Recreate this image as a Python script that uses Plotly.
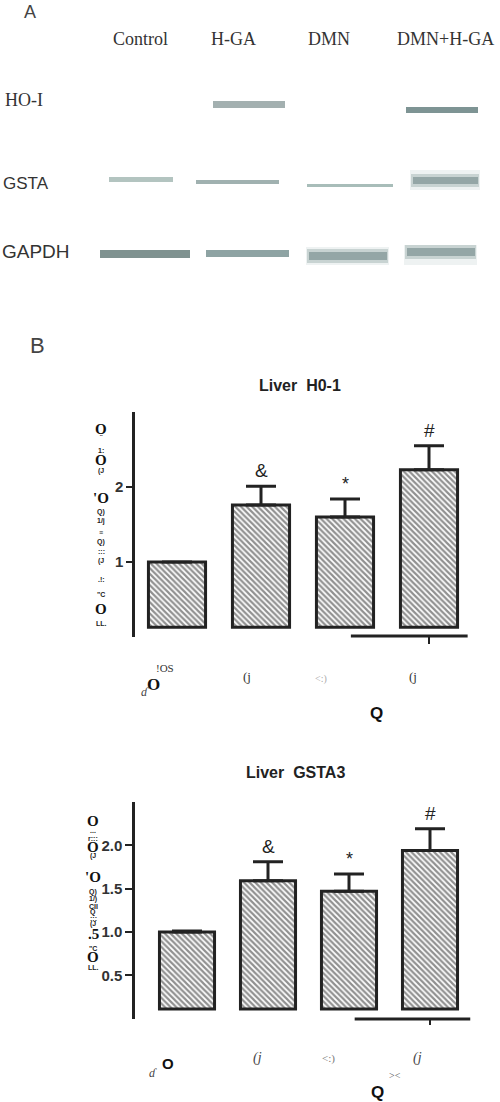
import plotly.graph_objects as go

W, H = 500, 1102

# ---- panel A: blot lanes / rows
lanes = ["Control", "H-GA", "DMN", "DMN+H-GA"]
lane_x = [140, 233, 329, 445]
rows = ["HO-I", "GSTA", "GAPDH"]

# flat bands: row, x0, x1, y0, y1, colour
flat_bands = [
    ("HO-I", 213, 285, 101, 108, "#a3b0b0"),
    ("HO-I", 406, 478, 107, 113, "#7e9494"),
    ("GSTA", 109, 173, 177, 182, "#b3c4c0"),
    ("GSTA", 196, 279, 180, 184, "#a0b1b0"),
    ("GSTA", 307, 393, 184, 187, "#a8bdb9"),
    ("GAPDH", 100, 190, 250, 258, "#7f9290"),
    ("GAPDH", 206, 289, 250, 257, "#8ea3a3"),
]
# scanned bands: x0, x1, y0, y1, core y0, core y1
scan_bands = [
    (410, 480, 170, 190, 177, 184),
    (306, 389, 247, 265, 252, 260),
    (404, 477, 245, 265, 248, 256),
]

# ---- panel B: fold change
groups = [0, 1, 2, 3]
ho1_mean = [1.00, 1.76, 1.60, 2.23]
ho1_sem = [0.0, 0.25, 0.24, 0.32]
gsta3_mean = [1.00, 1.59, 1.47, 1.94]
gsta3_sem = [0.01, 0.22, 0.20, 0.25]
sig_marks = ["", "&", "*", "#"]


def px(x):
    return x / W


def py(y):
    return 1 - y / H


fig = go.Figure()
shapes = []
ann = []

# blot bands
for r, x0, x1, y0, y1, c in flat_bands:
    shapes.append(dict(type="rect", xref="paper", yref="paper", x0=px(x0), x1=px(x1),
                       y0=py(y1), y1=py(y0), fillcolor=c, line=dict(width=0)))
for x0, x1, y0, y1, c0, c1 in scan_bands:
    shapes.append(dict(type="rect", xref="paper", yref="paper", x0=px(x0), x1=px(x1),
                       y0=py(y1), y1=py(y0), fillcolor="#eef2f2", line=dict(width=0)))
    shapes.append(dict(type="rect", xref="paper", yref="paper", x0=px(x0 + 1), x1=px(x1 - 1),
                       y0=py(c1 + 3), y1=py(c0 - 3), fillcolor="#c8d3d2", line=dict(width=0)))
    shapes.append(dict(type="rect", xref="paper", yref="paper", x0=px(x0 + 3), x1=px(x1 - 2),
                       y0=py(c1), y1=py(c0), fillcolor="#94a6a6", line=dict(width=0)))

serif = "Liberation Serif"
sans = "Liberation Sans"

ann.append(dict(text="A", x=px(30), y=py(12), font=dict(family=sans, size=18, color="#444")))
for name, lx in zip(lanes, lane_x):
    ann.append(dict(text=name, x=px(lx), y=py(39), font=dict(family=serif, size=18, color="#333")))
ann.append(dict(text="HO-I", x=px(3), y=py(100), xanchor="left", font=dict(family=serif, size=18, color="#333")))
ann.append(dict(text="GSTA", x=px(1), y=py(184), xanchor="left", font=dict(family=sans, size=17, color="#333")))
ann.append(dict(text="GAPDH", x=px(0), y=py(252), xanchor="left", font=dict(family=sans, size=19, color="#333")))
ann.append(dict(text="B", x=px(37), y=py(346), font=dict(family=sans, size=22, color="#444")))

hatch = dict(shape="\\", fgcolor="#222", bgcolor="white", size=4, solidity=0.55)


def bar_chart(xa, ya, means, sems, base, title, tx, ty):
    fig.add_trace(go.Bar(x=groups, y=[m - base for m in means], base=base, width=0.68,
                         marker=dict(color="white", line=dict(color="#222", width=3), pattern=hatch),
                         xaxis=xa, yaxis=ya))
    fig.add_trace(go.Scatter(x=groups, y=means, mode="markers",
                             marker=dict(size=1, color="rgba(0,0,0,0)"),
                             error_y=dict(type="data", array=sems, arrayminus=[0] * len(sems),
                                          symmetric=False, color="#222", thickness=3, width=15),
                             xaxis=xa, yaxis=ya))
    for g, m, s, mk in zip(groups, means, sems, sig_marks):
        if mk:
            ann.append(dict(text=mk, x=g, y=m + s, xref=xa, yref=ya, yanchor="bottom",
                            yshift=3, font=dict(family=sans, size=19 if mk != "*" else 18, color="#222")))
    ann.append(dict(text="<b>" + title + "</b>", x=px(tx), y=py(ty),
                    font=dict(family=sans, size=16, color="#222")))


bar_chart("x", "y", ho1_mean, ho1_sem, 0.13, "Liver  H0-1", 300, 386)
bar_chart("x2", "y2", gsta3_mean, gsta3_sem, 0.11, "Liver  GSTA3", 295, 772)

# partial x axis lines + tick
shapes.append(dict(type="line", xref="x", yref="paper", x0=2.07, x1=3.46, y0=py(636), y1=py(636),
                   line=dict(color="#222", width=3)))
shapes.append(dict(type="line", xref="x", yref="paper", x0=3, x1=3, y0=py(636), y1=py(644),
                   line=dict(color="#222", width=2)))
shapes.append(dict(type="line", xref="x2", yref="paper", x0=2.07, x1=3.5, y0=py(1019), y1=py(1019),
                   line=dict(color="#222", width=3)))
shapes.append(dict(type="line", xref="x2", yref="paper", x0=3, x1=3, y0=py(1019), y1=py(1025),
                   line=dict(color="#222", width=2)))

# scanned (garbled) axis titles
ylab1 = [("O", 429, True), ("¨", 438, False), ("1:", 451, False), ("O", 460, True), ("(J", 471, False),
         ("'O", 498, True), ("Q)", 512, False), ("1/j", 521, False), ("≡", 532, False), ("Q)", 542, False),
         (":::", 551, False), ("(J", 561, False), (".!:", 579, False), ('"C', 594, False),
         ("O", 609, True), ("LL.", 623, False)]
ylab2 = [("O", 821, True), ("...", 830, False), ("r:::", 838, False), ("O", 847, True), ("(J", 856, False),
         ("'O", 877, True), ("Q)", 892, False), ("1/)", 899, False), ("CII", 906, False), ("Q", 912, False),
         (":::", 918, False), ("(J", 924, False), (".5", 934, True), ('"C', 948, False),
         ("O", 957, True), ("LL.", 967, False)]
for lab, lx in ((ylab1, 101), (ylab2, 93)):
    for t, yy, big in lab:
        if big:
            f = dict(family=serif, size=15, color="#111", weight="bold")
        else:
            f = dict(family=sans, size=7, color="#222", weight="bold")
        ann.append(dict(text=t, x=px(lx), y=py(yy), font=f))

xlab = [("!OS", 165, 668, serif, 11, "#333", False), ("O", 153, 684, serif, 17, "#111", True),
        ("<i>ɗ</i>", 145, 692, serif, 12, "#444", False),
        ("(j", 247, 676, serif, 13, "#333", False), ("&lt;:)", 321, 679, serif, 10, "#aaa", False),
        ("(j", 413, 676, serif, 13, "#333", False), ("Q", 376, 713, sans, 17, "#111", True),
        ("O", 168, 1063, sans, 15, "#111", True), ("<i>ɗ</i>", 153, 1073, serif, 12, "#444", False),
        ("<i>(j</i>", 257, 1058, serif, 14, "#444", False), ("&lt;:)", 328, 1058, serif, 11, "#777", False),
        ("<i>(j</i>", 417, 1058, serif, 14, "#444", False), ("&gt;&lt;", 395, 1075, serif, 10, "#555", False),
        ("Q", 377, 1092, sans, 17, "#111", True)]
for t, x, y, fam, sz, col, b in xlab:
    ann.append(dict(text=t, x=px(x), y=py(y),
                    font=dict(family=fam, size=sz, color=col, weight="bold" if b else "normal")))

for a in ann:
    a.setdefault("xref", "paper")
    a.setdefault("yref", "paper")
    a.setdefault("xanchor", "center")
    a.setdefault("yanchor", "middle")
    a["showarrow"] = False

hidden_x = dict(showline=False, showticklabels=False, ticks="", showgrid=False, zeroline=False,
                range=[-0.5, 3.5])
yax = dict(showline=True, linecolor="#222", linewidth=2.5, ticks="outside", tickcolor="#222",
           tickwidth=2, ticklen=6, showgrid=False, zeroline=False,
           tickfont=dict(family=sans, size=15, color="#333", weight="bold"))

fig.update_layout(
    width=W, height=H, margin=dict(l=0, r=0, t=0, b=0),
    paper_bgcolor="white", plot_bgcolor="white", showlegend=False,
    xaxis=dict(hidden_x, domain=[px(135), px(471)]),
    yaxis=dict(yax, domain=[py(637), py(412)], range=[0, 3], tickvals=[1, 2]),
    xaxis2=dict(hidden_x, domain=[px(146.5), px(470.5)]),
    yaxis2=dict(yax, domain=[py(1018.6), py(802)], range=[0, 2.5], tickvals=[0.5, 1.0, 1.5, 2.0],
                ticktext=["0.5", "1.0", "1.5", "2.0"], ticklen=7),
    shapes=shapes, annotations=ann,
)

fig.write_html("out.html", config={"displayModeBar": False},
               post_script="document.body.style.margin='0';")
